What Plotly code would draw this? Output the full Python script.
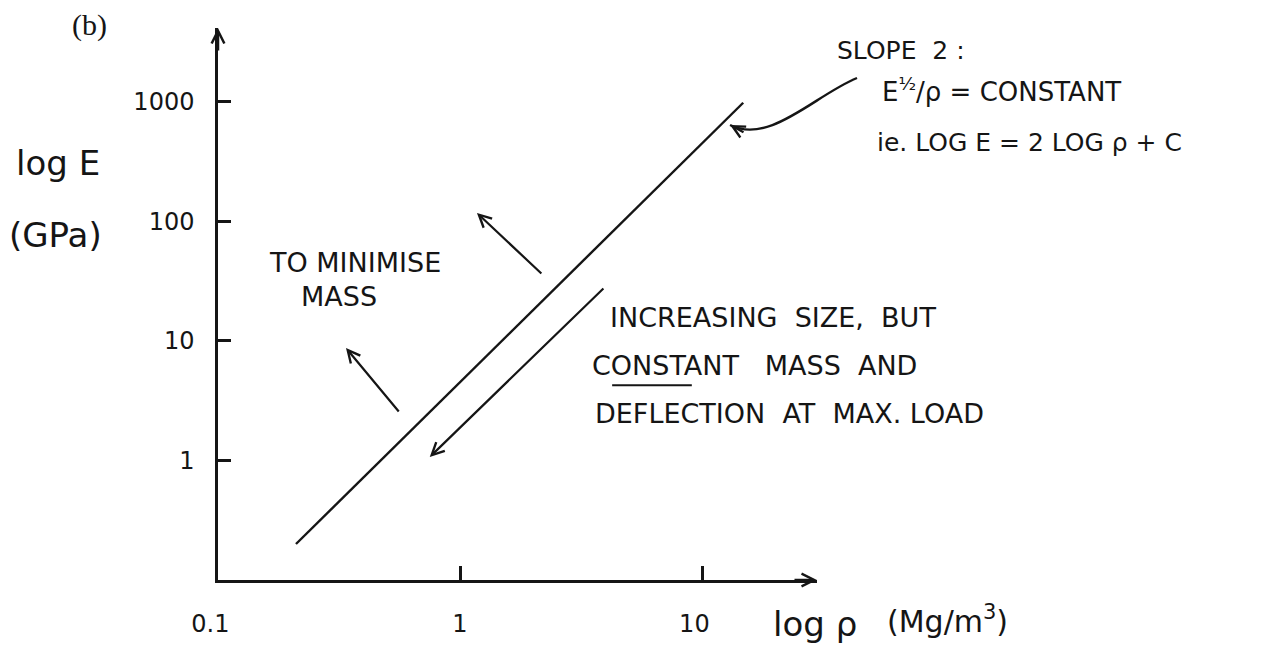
import numpy as np
import plotly.graph_objects as go

# Guide line of slope 2 on log-log axes: density (Mg/m^3) vs modulus (GPa)
density = [0.21, 14.8]
modulus = [0.2, 985]

x_tick_vals = [0.1, 1, 10]
x_tick_text = ["0.1\u00a0\u00a0", "1", "10\u00a0\u00a0"]
y_tick_vals = [1, 10, 100, 1000]
y_tick_text = ["1", "10", "100", "1000"]

INK = "#151515"
HAND = "DejaVu Sans"
SP = "\u00a0"

fig = go.Figure()
fig.add_trace(go.Scatter(
    x=density, y=modulus, mode="lines",
    line=dict(color=INK, width=2.4),
    hoverinfo="skip", showlegend=False,
))


def data_arrow(head, tail, size=1.1, width=2.2):
    """Straight arrow between two (density, modulus) points."""
    fig.add_annotation(
        x=np.log10(head[0]), y=np.log10(head[1]),
        ax=np.log10(tail[0]), ay=np.log10(tail[1]),
        xref="x", yref="y", axref="x", ayref="y",
        text="", showarrow=True, arrowhead=5,
        arrowsize=size, arrowwidth=width, arrowcolor=INK,
    )


# direction of increasing size at fixed mass (parallel to the guide line)
data_arrow(head=(0.75, 1.07), tail=(3.97, 28.3))
# direction that minimises mass
data_arrow(head=(1.175, 118), tail=(2.20, 35.7))
data_arrow(head=(0.338, 8.74), tail=(0.565, 2.50))

# curved pointer from the slope note to the guide line (paper units, so it
# may run past the right edge of the plotting area)
fig.add_shape(
    type="path", xref="paper", yref="paper",
    path="M 1.0668,0.9094 C 0.9967,0.8786 0.9215,0.7880 0.8548,0.8243",
    line=dict(color=INK, width=2.4),
)
fig.add_annotation(
    x=0.8548, y=0.8243, xref="paper", yref="paper", ax=15, ay=8,
    text="", showarrow=True, arrowhead=5,
    arrowsize=1.1, arrowwidth=2.2, arrowcolor=INK,
)

# arrowheads closing the two axes
fig.add_annotation(x=0, y=1, xref="paper", yref="paper", ax=0, ay=24,
                   text="", showarrow=True, arrowhead=5, arrowsize=1.0,
                   arrowwidth=2.5, arrowcolor=INK)
fig.add_annotation(x=1, y=0, xref="paper", yref="paper", ax=-24, ay=0,
                   text="", showarrow=True, arrowhead=5, arrowsize=1.0,
                   arrowwidth=2.5, arrowcolor=INK)


def note(text, x, y, size=27, xanchor="left", family=HAND):
    fig.add_annotation(
        x=x, y=y, xref="paper", yref="paper", text=text, showarrow=False,
        xanchor=xanchor, yanchor="middle",
        font=dict(family=family, size=size, color=INK),
    )


note("(b)", -0.2137, 1.005, size=30, xanchor="center", family="Liberation Serif")
note("log E", -0.267, 0.755, size=34, xanchor="center")
note("(GPa)", -0.272, 0.625, size=34, xanchor="center")
note("log ρ", 0.9967, -0.080, size=34, xanchor="center")
note("(Mg/m<sup>3</sup>)", 1.1135, -0.072, size=30)

note("TO MINIMISE", 0.2287, 0.576, xanchor="center")
note("MASS", 0.2028, 0.5127, xanchor="center")

note(f"INCREASING{SP}{SP}SIZE,{SP}{SP}BUT", 0.651, 0.475)
note(f"CONSTANT{SP}{SP}{SP}MASS{SP}{SP}AND", 0.621, 0.389)
note(f"DEFLECTION{SP}{SP}AT{SP}{SP}MAX.{SP}LOAD", 0.626, 0.3025)
fig.add_shape(type="line", xref="paper", yref="paper",
              x0=0.658, x1=0.791, y0=0.353, y1=0.353,
              line=dict(color=INK, width=2))

note(f"SLOPE{SP}{SP}2{SP}:", 1.030, 0.960, size=25)
note(f"E<sup>½</sup>/ρ{SP}={SP}CONSTANT", 1.105, 0.888, size=26)
note(f"ie.{SP}LOG{SP}E{SP}={SP}2{SP}LOG{SP}ρ{SP}+{SP}C", 1.097, 0.792, size=25)

axis_common = dict(
    type="log", showgrid=False, zeroline=False,
    showline=True, linecolor=INK, linewidth=2.5,
    ticks="inside", tickcolor=INK, tickwidth=2.5,
    tickfont=dict(family=HAND, size=24, color=INK),
)

fig.update_xaxes(
    **axis_common, range=[-1, 1.4752], ticklen=14,
    tickvals=x_tick_vals, ticktext=x_tick_text, ticklabelstandoff=20,
)
fig.update_yaxes(
    **axis_common, range=[-1, 3.619], ticklen=13,
    tickvals=y_tick_vals, ticktext=y_tick_text, ticklabelstandoff=16,
)

fig.update_layout(
    width=1274, height=656,
    margin=dict(l=218, r=457, t=28, b=76),
    paper_bgcolor="white", plot_bgcolor="white",
    showlegend=False,
)

fig.write_html("out.html")
